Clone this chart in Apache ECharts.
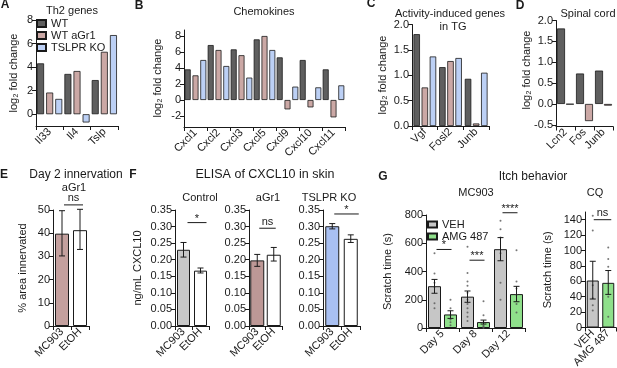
<!DOCTYPE html>
<html>
<head>
<meta charset="utf-8">
<script src="https://cdn.jsdelivr.net/npm/echarts@6.0.0/dist/echarts.min.js"></script>
<style>
  html, body { margin: 0; padding: 0; background: #fff; }
  #root { position: relative; width: 617px; height: 368px; background: #fff; overflow: hidden; }
  .layer { position: absolute; }
</style>
</head>
<body>
<div id="root"></div>
<script>
// A: Th2 genes
const th2Genes = ['Il33', 'Il4', 'Tslp'];
const th2WT = [4.32, 3.42, 2.9];
const th2Gr1 = [1.84, 3.67, 5.3];
const th2KO = [1.3, -0.7, 6.72];

// B: chemokines
const chemokines = ['Cxcl1', 'Cxcl2', 'Cxcl3', 'Cxcl5', 'Cxcl9', 'Cxcl10', 'Cxcl11'];
const chemWT = [3.83, 6.87, 6.33, 7.58, 5.33, 5.0, 3.83];
const chemGr1 = [3.08, 6.25, 5.6, 8.0, -1.17, -0.92, -2.17];
const chemKO = [5.0, 4.25, 2.8, 6.25, 1.67, 1.58, 1.83];

// C: activity-induced genes in TG
const tgGenes = ['Vgf', 'Fosl2', 'Junb'];
const tgWT = [1.81, 1.16, 0.93];
const tgGr1 = [0.76, 1.28, 0.05];
const tgKO = [1.37, 1.34, 1.05];

// D: spinal cord
const scGenes = ['Lcn2', 'Fos', 'Junb'];
const scWT = [1.81, 0.73, 0.8];
const scGr1 = [-0.01, -0.41, -0.04];

// E: day 2 innervation
const treatCats = ['MC903', 'EtOH'];
const eMean = [39.8, 41.3];
const eLow = [30.2, 33.0];
const eHigh = [49.7, 50.3];

// F: ELISA of CXCL10
const fCtrlMean = [0.230, 0.167];
const fCtrlLow = [0.208, 0.160];
const fCtrlHigh = [0.252, 0.175];
const fGr1Mean = [0.198, 0.215];
const fGr1Low = [0.180, 0.196];
const fGr1High = [0.216, 0.237];
const fKoMean = [0.301, 0.263];
const fKoLow = [0.293, 0.252];
const fKoHigh = [0.309, 0.275];

// G: itch behaviour
const days = ['Day 5', 'Day 8', 'Day 12'];
const vehMean = [296, 222, 558];
const vehLow = [246, 182, 476];
const vehHigh = [344, 262, 640];
const amgMean = [96, 42, 240];
const amgLow = [68, 28, 186];
const amgHigh = [122, 56, 295];
const vehDots = [[530, 385, 320, 290, 175, 140], [575, 390, 330, 300, 250, 200, 170, 140, 110, 80, 50], [760, 700, 640, 530, 320, 200]];
const amgDots = [[200, 140, 90, 60, 40, 20], [190, 90, 40, 20, 10, 5, 0], [550, 330, 280, 235, 170, 110]];
const cqCats = ['VEH', 'AMG 487'];
const cqMean = [61, 58];
const cqLow = [37, 43];
const cqHigh = [86, 74];
const cqDots = [[145, 126, 55, 38, 29, 22], [104, 89, 79, 40, 14]];

// significance bars: [from, to, height]
const eSig = [[0, 1, 52.2]];
const fCtrlSig = [[0, 1, 0.312]];
const fGr1Sig = [[0, 1, 0.295]];
const fKoSig = [[0, 1, 0.338]];
const gSig = [[0, 0, 556], [1, 1, 480], [2, 2, 816]];
const gSigText = ['*', '***', '****'];
const cqSig = [[0, 1, 140]];

const FONT = '"Liberation Sans", Arial, Helvetica, "DejaVu Sans", sans-serif';
const INK = '#1a1a1a';
const WT_C = '#5f5f5f';
const GR1_C = '#cba8a5';
const KO_C = '#bcd0f5';
const LOG2 = 'log\u2082 fold change';
const F_TICKS = [0, 0.05, 0.1, 0.15, 0.2, 0.25, 0.3, 0.35];

function grid(left, top, width, height) {
  return { left, top, width, height, containLabel: false, outerBoundsMode: 'none' };
}

function xCat(data) {
  return {
    type: 'category', data,
    axisLine: { show: true, onZero: false, lineStyle: { color: INK, width: 1 } },
    axisTick: { show: true, length: 4, lineStyle: { color: INK } },
    axisLabel: { interval: 0, rotate: 45, margin: 4, fontSize: 11, color: INK, fontFamily: FONT }
  };
}

function yVal(min, max, ticks, digits, name, gap) {
  return {
    type: 'value', min, max,
    axisLine: { show: true, lineStyle: { color: INK, width: 1 } },
    axisTick: { show: true, length: 4, customValues: ticks, lineStyle: { color: INK } },
    axisLabel: { customValues: ticks, formatter: v => v.toFixed(digits), fontSize: 11, color: INK, margin: 3, fontFamily: FONT },
    splitLine: { show: false },
    name, nameLocation: 'middle', nameGap: gap,
    nameTextStyle: { fontSize: 11, color: INK, fontFamily: FONT }
  };
}

function groupBar(name, data, color, width, gap) {
  return {
    name, type: 'bar', data, barWidth: width, barGap: gap,
    itemStyle: { color, borderColor: INK, borderWidth: 0.8 }
  };
}

function pairBar(values, colors, width) {
  return {
    type: 'bar', barWidth: width,
    data: values.map((v, i) => ({ value: v, itemStyle: { color: colors[i] } })),
    itemStyle: { borderColor: INK, borderWidth: 1 }
  };
}

function errBars(low, high, offset, cap) {
  return {
    type: 'custom', clip: false, z: 5, silent: true,
    data: low.map((l, i) => [i, l, high[i]]),
    encode: { x: 0, y: [1, 2] },
    renderItem: (params, api) => {
      const lo = api.coord([api.value(0), api.value(1)]);
      const hi = api.coord([api.value(0), api.value(2)]);
      const x = lo[0] + offset;
      const st = { stroke: INK, lineWidth: 1 };
      return {
        type: 'group', children: [
          { type: 'line', shape: { x1: x, y1: lo[1], x2: x, y2: hi[1] }, style: st },
          { type: 'line', shape: { x1: x - cap, y1: hi[1], x2: x + cap, y2: hi[1] }, style: st },
          { type: 'line', shape: { x1: x - cap, y1: lo[1], x2: x + cap, y2: lo[1] }, style: st }
        ]
      };
    }
  };
}

function sigMarks(spans, texts, off0, off1) {
  return {
    type: 'custom', clip: false, z: 6, silent: true,
    data: spans, encode: { x: [0, 1], y: 2 },
    renderItem: (params, api) => {
      const a = api.coord([api.value(0), api.value(2)]);
      const b = api.coord([api.value(1), api.value(2)]);
      const x1 = a[0] + off0, x2 = b[0] + off1, y = a[1];
      const t = texts[params.dataIndex];
      const ns = t === 'ns';
      return {
        type: 'group', children: [
          { type: 'line', shape: { x1, y1: y, x2, y2: y }, style: { stroke: INK, lineWidth: 1 } },
          {
            type: 'text', x: (x1 + x2) / 2, y: ns ? y - 1 : y - 4,
            style: {
              text: t, fill: INK, font: '11px ' + FONT,
              align: 'center', textAlign: 'center',
              verticalAlign: ns ? 'bottom' : 'middle', textVerticalAlign: ns ? 'bottom' : 'middle'
            }
          }
        ]
      };
    }
  };
}

function dots(groups, offset) {
  const pts = [];
  groups.forEach((g, i) => g.forEach(v => pts.push([i, v])));
  return {
    type: 'scatter', data: pts, symbolSize: 2,
    symbolOffset: [offset, 0], itemStyle: { color: '#555' }, z: 4, silent: true
  };
}

function txt(text, x, y, font, rotation) {
  return {
    type: 'text', x, y, rotation: rotation || 0, silent: true,
    style: {
      text, fill: INK, font: font + ' ' + FONT,
      align: 'center', textAlign: 'center', verticalAlign: 'middle', textVerticalAlign: 'middle'
    }
  };
}

function legend(data, left, top, h) {
  return {
    data, left, top, orient: 'vertical', icon: 'rect', itemWidth: 9, itemHeight: h,
    itemGap: 1, padding: 0, selectedMode: false,
    textStyle: { fontSize: 11, lineHeight: 11, color: INK, fontFamily: FONT }
  };
}

// each panel gets its own small chart; box = [left, top, width, height] of its div,
// grid / legend positions below are page coordinates and get shifted into the box
const panels = [
  { // A
    box: [0, 0, 130, 180],
    grid: grid(36, 20, 82, 106), xAxis: xCat(th2Genes),
    yAxis: yVal(-1, 8, [0, 2, 4, 6, 8], 0, '', 0),
    legend: legend(['WT', 'WT aGr1', 'TSLPR KO'], 36, 18, 7),
    series: [
      groupBar('WT', th2WT, WT_C, 7, '30%'),
      groupBar('WT aGr1', th2Gr1, GR1_C, 7, '30%'),
      groupBar('TSLPR KO', th2KO, KO_C, 7, '30%')
    ]
  },
  { // B
    box: [130, 0, 225, 180],
    grid: grid(184, 30, 161, 97), xAxis: xCat(chemokines),
    yAxis: yVal(-3.375, 8.75, [-2, 0, 2, 4, 6, 8], 0, '', 0),
    series: [
      groupBar('WT', chemWT, WT_C, 6, '30%'),
      groupBar('WT aGr1', chemGr1, GR1_C, 6, '30%'),
      groupBar('TSLPR KO', chemKO, KO_C, 6, '30%')
    ]
  },
  { // C
    box: [355, 0, 140, 180],
    grid: grid(412, 24.5, 77, 101.5), xAxis: xCat(tgGenes),
    yAxis: yVal(0, 2, [0, 0.5, 1, 1.5, 2], 1, '', 0),
    series: [
      groupBar('WT', tgWT, WT_C, 6.5, '25%'),
      groupBar('WT aGr1', tgGr1, GR1_C, 6.5, '25%'),
      groupBar('TSLPR KO', tgKO, KO_C, 6.5, '25%')
    ]
  },
  { // D
    box: [495, 0, 122, 180],
    grid: grid(556, 20.5, 57, 106), xAxis: xCat(scGenes),
    yAxis: yVal(-0.54, 2, [-0.5, 0, 0.5, 1, 1.5, 2], 1, '', 0),
    series: [
      groupBar('WT', scWT, WT_C, 8, '12%'),
      groupBar('WT aGr1', scGr1, GR1_C, 8, '12%')
    ]
  },
  { // E
    box: [0, 170, 125, 198],
    grid: grid(53, 210, 36, 116), xAxis: xCat(treatCats),
    yAxis: yVal(0, 50, [0, 10, 20, 30, 40, 50], 0, '% area innervated', 25),
    series: [
      pairBar(eMean, ['#c4a09e', '#ffffff'], 14),
      errBars(eLow, eHigh, 0, 3),
      sigMarks(eSig, ['ns'], 2, 3)
    ]
  },
  { // F control
    box: [125, 170, 95, 198],
    grid: grid(175, 210, 34, 116), xAxis: xCat(treatCats),
    yAxis: yVal(0, 0.35, F_TICKS, 2, 'ng/mL CXCL10', 32),
    series: [
      pairBar(fCtrlMean, ['#c8c8c8', '#ffffff'], 13),
      errBars(fCtrlLow, fCtrlHigh, 0, 3),
      sigMarks(fCtrlSig, ['*'], 4, 6)
    ]
  },
  { // F aGr1
    box: [220, 170, 72, 198],
    grid: grid(249, 210, 33, 116), xAxis: xCat(treatCats),
    yAxis: yVal(0, 0.35, F_TICKS, 2, '', 0),
    series: [
      pairBar(fGr1Mean, ['#bd9896', '#ffffff'], 14),
      errBars(fGr1Low, fGr1High, 0, 3),
      sigMarks(fGr1Sig, ['ns'], 2, 2)
    ]
  },
  { // F TSLPR KO
    box: [292, 170, 80, 198],
    grid: grid(323, 210, 37, 116), xAxis: xCat(treatCats),
    yAxis: yVal(0, 0.35, F_TICKS, 2, '', 0),
    series: [
      pairBar(fKoMean, ['#a9c0f2', '#ffffff'], 14),
      errBars(fKoLow, fKoHigh, 0, 3),
      sigMarks(fKoSig, ['*'], 2, 8)
    ]
  },
  { // G MC903
    box: [372, 170, 165, 198],
    grid: grid(426, 215, 99, 113), xAxis: xCat(days),
    yAxis: yVal(0, 800, [0, 200, 400, 600, 800], 0, 'Scratch time (s)', 30),
    legend: legend(['VEH', 'AMG 487'], 427, 219, 6),
    series: [
      {
        name: 'VEH', type: 'bar', data: vehMean, barWidth: 13, barGap: '23%',
        itemStyle: { color: '#c6c6c6', borderColor: INK, borderWidth: 1 }
      },
      {
        name: 'AMG 487', type: 'bar', data: amgMean, barWidth: 13, barGap: '23%',
        itemStyle: { color: '#8fe08b', borderColor: INK, borderWidth: 1 }
      },
      dots(vehDots, -8),
      dots(amgDots, 8),
      errBars(vehLow, vehHigh, -8, 3),
      errBars(amgLow, amgHigh, 8, 3),
      sigMarks(gSig, gSigText, -6, 9)
    ]
  },
  { // G CQ
    box: [537, 170, 80, 198],
    grid: grid(585, 212, 31, 115.5), xAxis: xCat(cqCats),
    yAxis: yVal(0, 150, [0, 20, 40, 60, 80, 100, 120, 140], 0, 'Scratch time (s)', 32),
    series: [
      pairBar(cqMean, ['#c6c6c6', '#8fe08b'], 12),
      dots(cqDots, 0),
      errBars(cqLow, cqHigh, 0, 3),
      sigMarks(cqSig, ['ns'], 1, 3)
    ]
  }
];

// panel letters and titles
const titles = [
  txt('A', 5, 5, 'bold 12px'),
  txt('Th2 genes', 72, 11, '11px'),
  txt('B', 139, 6, 'bold 12px'),
  txt('Chemokines', 264, 12, '11px'),
  txt('C', 371, 4, 'bold 12px'),
  txt('Activity-induced genes', 450, 14, '11px'),
  txt('in TG', 453, 27, '11px'),
  txt('D', 520, 6, 'bold 12px'),
  txt('Spinal cord', 588, 14, '11px'),
  txt('E', 4, 175, 'bold 12px'),
  txt('Day 2 innervation', 76, 175, '12px'),
  txt('aGr1', 74, 188, '11px'),
  txt('F', 133, 175, 'bold 12px'),
  txt('ELISA of CXCL10 in skin', 265, 175, '12.5px'),
  txt('Control', 200, 198, '11px'),
  txt('aGr1', 268, 198, '11px'),
  txt('TSLPR KO', 329, 198, '11px'),
  txt('G', 383, 177, 'bold 12px'),
  txt('Itch behavior', 533, 177, '12px'),
  txt('MC903', 476, 193, '11px'),
  txt('CQ', 595, 193, '11px')
];

// y-axis titles of the log2 panels, kept in their own layer
const logNames = [
  txt(LOG2, 14, 73, '11px', Math.PI / 2),
  txt(LOG2, 158, 78, '11px', Math.PI / 2),
  txt(LOG2, 383, 75, '11px', Math.PI / 2),
  txt(LOG2, 527, 70, '11px', Math.PI / 2)
];

const root = document.getElementById('root');

function addLayer(box, option) {
  const div = document.createElement('div');
  div.className = 'layer';
  div.style.left = box[0] + 'px';
  div.style.top = box[1] + 'px';
  div.style.width = box[2] + 'px';
  div.style.height = box[3] + 'px';
  root.appendChild(div);
  const chart = echarts.init(div);
  chart.setOption(Object.assign({ animation: false, backgroundColor: 'transparent', textStyle: { fontFamily: FONT } }, option));
}

panels.forEach(p => {
  const [bx, by] = p.box;
  p.grid.left -= bx;
  p.grid.top -= by;
  if (p.legend) {
    p.legend.left -= bx;
    p.legend.top -= by;
  }
  addLayer(p.box, {
    grid: p.grid, xAxis: p.xAxis, yAxis: p.yAxis,
    legend: p.legend || { show: false },
    series: p.series
  });
});

addLayer([0, 0, 617, 368], { graphic: titles });
addLayer([0, 0, 617, 368], { graphic: logNames });
</script>
</body>
</html>
